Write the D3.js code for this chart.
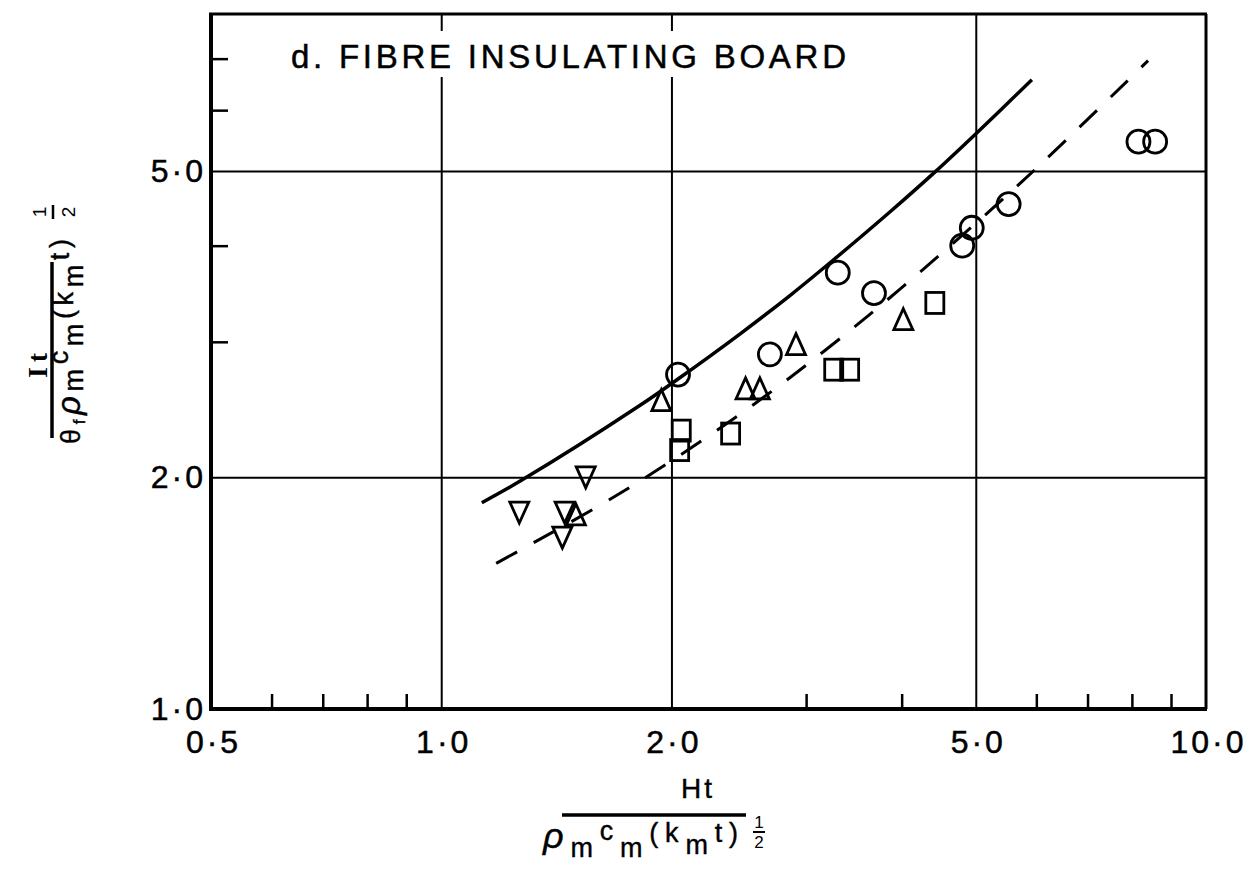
<!DOCTYPE html>
<html>
<head>
<meta charset="utf-8">
<style>
body { margin: 0; background: #fff; }
.tick text { font-family: "Liberation Sans", Arial, sans-serif; }
</style>
</head>
<body>
<div id="chart"></div>
<script src="https://d3js.org/d3.v7.min.js"></script>
<script>
// values (log-log)
var circleX = [2.04, 2.69, 3.30, 3.68, 4.80, 4.94, 5.52, 8.16, 8.58];
var circleY = [2.72, 2.89, 3.69, 3.47, 4.00, 4.22, 4.53, 5.46, 5.46];
var triUpX = [1.50, 1.94, 2.50, 2.61, 2.91, 4.02];
var triUpY = [1.79, 2.52, 2.61, 2.61, 2.98, 3.21];
var squareX = [2.05, 2.06, 2.39, 3.26, 3.42, 4.42];
var squareY = [2.17, 2.30, 2.28, 2.76, 2.76, 3.37];
var triDownX = [1.265, 1.44, 1.45, 1.545];
var triDownY = [1.80, 1.67, 1.80, 2.00];

var solidX = [1.13, 1.27, 1.82, 2.04, 2.46, 2.86, 3.25, 3.86, 4.42, 5.01, 5.92];
var solidY = [1.854, 1.979, 2.481, 2.684, 3.073, 3.448, 3.826, 4.424, 4.985, 5.601, 6.571];
var dashX = [1.18, 1.61, 1.95, 2.57, 3.19, 3.98, 5.76, 8.40];
var dashY = [1.546, 1.838, 2.067, 2.493, 2.934, 3.512, 4.855, 6.957];

var xMajor = [0.5, 1, 2, 5, 10];
var xMinor = [0.6, 0.7, 0.8, 0.9, 3, 4, 6, 7, 8, 9];
var xGrid = [1, 2, 5];
var yMajor = [1, 2, 5];
var yMinor = [3, 4, 6, 7];
var yGrid = [2, 5];

var title = "d. FIBRE INSULATING  BOARD";

// layout
var margin = {top: 14, right: 46, bottom: 165, left: 211};
var width = 995, height = 695;
var font = "'Liberation Sans', Arial, sans-serif";

var svg = d3.select("#chart").append("svg")
    .attr("width", 1252)
    .attr("height", 874);
var g = svg.append("g").attr("transform", "translate(" + margin.left + "," + margin.top + ")");

var x = d3.scaleLog().domain([0.5, 10]).range([0, width]);
var y = d3.scaleLog().domain([1, 8]).range([height, 0]);

var fmt = function(d) { return d3.format(".1f")(d).replace(".", "\u00b7"); };

// grid lines
g.append("g")
    .attr("transform", "translate(0," + height + ")")
    .call(d3.axisBottom(x).tickValues(xGrid).tickSize(-height).tickFormat(""))
    .call(function(a) { a.select(".domain").remove(); })
    .selectAll("line").attr("stroke", "#000").attr("stroke-width", 2);
g.append("g")
    .call(d3.axisLeft(y).tickValues(yGrid).tickSize(-width).tickFormat(""))
    .call(function(a) { a.select(".domain").remove(); })
    .selectAll("line").attr("stroke", "#000").attr("stroke-width", 2);

// minor ticks (inside)
g.append("g")
    .attr("transform", "translate(0," + height + ")")
    .call(d3.axisBottom(x).tickValues(xMinor).tickSize(-15).tickFormat(""))
    .call(function(a) { a.select(".domain").remove(); })
    .selectAll("line").attr("stroke", "#000").attr("stroke-width", 2.5);
g.append("g")
    .call(d3.axisLeft(y).tickValues(yMinor).tickSize(-17).tickFormat(""))
    .call(function(a) { a.select(".domain").remove(); })
    .selectAll("line").attr("stroke", "#000").attr("stroke-width", 2.5);

// tick labels
g.append("g")
    .attr("transform", "translate(0," + height + ")")
    .call(d3.axisBottom(x).tickValues(xMajor).tickSize(0).tickPadding(21).tickFormat(fmt))
    .call(function(a) { a.select(".domain").remove(); })
    .selectAll("text")
    .attr("fill", "#000")
    .attr("stroke", "#000")
    .attr("stroke-width", 0.5)
    .attr("dx", "2px")
    .style("font-size", "32px")
    .style("letter-spacing", "3px");
g.append("g")
    .call(d3.axisLeft(y).tickValues(yMajor).tickSize(0).tickPadding(5).tickFormat(fmt))
    .call(function(a) { a.select(".domain").remove(); })
    .selectAll("text")
    .attr("fill", "#000")
    .attr("stroke", "#000")
    .attr("stroke-width", 0.5)
    .style("font-size", "32px")
    .style("letter-spacing", "3px");

// frame
var frame = g.append("g").attr("stroke", "#000").attr("fill", "none");
frame.append("line").attr("x1", 0).attr("x2", 0).attr("y1", -1).attr("y2", height + 2).attr("stroke-width", 4);
frame.append("line").attr("x1", -2).attr("x2", width + 1).attr("y1", height).attr("y2", height).attr("stroke-width", 4);
frame.append("line").attr("x1", -2).attr("x2", width + 1).attr("y1", 0).attr("y2", 0).attr("stroke-width", 3);
frame.append("line").attr("x1", width).attr("x2", width).attr("y1", 0).attr("y2", height).attr("stroke-width", 3);

// title with white box over grid
g.append("rect")
    .attr("x", 72).attr("y", 17)
    .attr("width", 570).attr("height", 46)
    .attr("fill", "#fff");
g.append("text")
    .attr("x", 80).attr("y", 54)
    .attr("textLength", 555)
    .attr("lengthAdjust", "spacing")
    .attr("stroke", "#000")
    .attr("stroke-width", 0.5)
    .style("font-family", font)
    .style("font-size", "33px")
    .text(title);

// curves
var line = d3.line()
    .x(function(d) { return x(d[0]); })
    .y(function(d) { return y(d[1]); })
    .curve(d3.curveCatmullRom);

g.append("path")
    .datum(d3.zip(solidX, solidY))
    .attr("d", line)
    .attr("fill", "none")
    .attr("stroke", "#000")
    .attr("stroke-width", 3.5);

g.append("path")
    .datum(d3.zip(dashX, dashY))
    .attr("d", line)
    .attr("fill", "none")
    .attr("stroke", "#000")
    .attr("stroke-width", 3)
    .attr("stroke-dasharray", "24,19");

// markers
var mk = g.append("g").attr("fill", "none").attr("stroke", "#000").attr("stroke-width", 2.8);

mk.selectAll(".circ")
    .data(d3.zip(circleX, circleY))
    .join("circle")
    .attr("cx", function(d) { return x(d[0]); })
    .attr("cy", function(d) { return y(d[1]); })
    .attr("r", 11.5);

mk.selectAll(".up")
    .data(d3.zip(triUpX, triUpY))
    .join("path")
    .attr("transform", function(d) { return "translate(" + x(d[0]) + "," + y(d[1]) + ")"; })
    .attr("d", "M0,-10.5L9.5,10.5L-9.5,10.5Z");

mk.selectAll(".down")
    .data(d3.zip(triDownX, triDownY))
    .join("path")
    .attr("transform", function(d) { return "translate(" + x(d[0]) + "," + y(d[1]) + ")"; })
    .attr("d", "M0,10.5L9.5,-10.5L-9.5,-10.5Z");

mk.selectAll(".sq")
    .data(d3.zip(squareX, squareY))
    .join("rect")
    .attr("x", function(d) { return x(d[0]) - 9; })
    .attr("y", function(d) { return y(d[1]) - 10.5; })
    .attr("width", 18)
    .attr("height", 21);

// x axis label: Ht / rho_m c_m (k_m t)^1/2
var xl = svg.append("g").style("font-family", font).attr("fill", "#000");
xl.append("text").attr("x", 698).attr("y", 798).attr("text-anchor", "middle")
    .attr("stroke", "#000").attr("stroke-width", 0.4)
    .style("font-size", "28px").style("letter-spacing", "3px").text("Ht");
xl.append("line").attr("x1", 562).attr("x2", 746).attr("y1", 815).attr("y2", 815)
    .attr("stroke", "#000").attr("stroke-width", 3.5);
var xd = xl.append("text").attr("x", 543).attr("y", 848)
    .attr("textLength", 195).attr("lengthAdjust", "spacing")
    .attr("stroke", "#000").attr("stroke-width", 0.4)
    .style("font-size", "27px");
xd.append("tspan").style("font-size", "36px").style("font-style", "italic").text("\u03c1");
xd.append("tspan").attr("dy", 9).text("m");
xd.append("tspan").attr("dy", -17).text("c");
xd.append("tspan").attr("dy", 17).text("m");
xd.append("tspan").attr("dy", -15).text("(");
xd.append("tspan").text("k");
xd.append("tspan").attr("dy", 12).text("m");
xd.append("tspan").attr("dy", -12).text("t");
xd.append("tspan").text(")");
xl.append("text").attr("x", 759).attr("y", 828).attr("text-anchor", "middle").style("font-size", "17px").text("1");
xl.append("line").attr("x1", 753).attr("x2", 765).attr("y1", 832).attr("y2", 832).attr("stroke", "#000").attr("stroke-width", 2);
xl.append("text").attr("x", 759).attr("y", 848).attr("text-anchor", "middle").style("font-size", "17px").text("2");

// y axis label (rotated): It / theta_f rho_m c_m (k_m t)^1/2
var yl = svg.append("g").attr("transform", "rotate(-90)").style("font-family", font).attr("fill", "#000");
yl.append("text").attr("x", -363).attr("y", 47).attr("text-anchor", "middle")
    .style("font-size", "28px").style("font-family", "'Liberation Serif', serif").style("font-weight", "bold")
    .style("letter-spacing", "5px")
    .text("It");
yl.append("line").attr("x1", -438).attr("x2", -262).attr("y1", 52).attr("y2", 52)
    .attr("stroke", "#000").attr("stroke-width", 3.5);
var yd = yl.append("text").attr("x", -444).attr("y", 80)
    .attr("textLength", 205).attr("lengthAdjust", "spacing")
    .attr("stroke", "#000").attr("stroke-width", 0.4)
    .style("font-size", "27px");
yd.append("tspan").text("\u03b8");
yd.append("tspan").attr("dy", 5).style("font-size", "17px").text("f");
yd.append("tspan").attr("dy", -5).style("font-style", "italic").style("font-size", "33px").text("\u03c1");
yd.append("tspan").attr("dy", 3).text("m");
yd.append("tspan").attr("dy", -15).text("c");
yd.append("tspan").attr("dy", 15).text("m");
yd.append("tspan").attr("dy", -10).text("(");
yd.append("tspan").text("k");
yd.append("tspan").attr("dy", 10).text("m");
yd.append("tspan").attr("dy", -14).text("t");
yd.append("tspan").text(")");
yl.append("text").attr("x", -212).attr("y", 46).attr("text-anchor", "middle").style("font-size", "19px").text("1");
yl.append("line").attr("x1", -219).attr("x2", -205).attr("y1", 53).attr("y2", 53).attr("stroke", "#000").attr("stroke-width", 2.5);
yl.append("text").attr("x", -212).attr("y", 75).attr("text-anchor", "middle").style("font-size", "19px").text("2");
</script>
</body>
</html>
